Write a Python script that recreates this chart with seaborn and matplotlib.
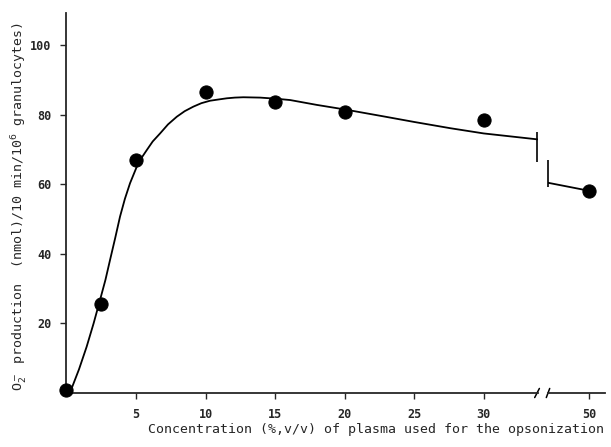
import matplotlib
matplotlib.use("Agg")
import matplotlib.pyplot as plt
import seaborn as sns

# measured points (% plasma, O2- production)
conc = [0, 2.5, 5, 10, 15, 20, 30]
o2 = [0.8, 25.6, 67.1, 86.4, 83.7, 80.8, 78.4]
conc_hi = [50]
o2_hi = [58.1]

# fitted curve
curve_x = [0, 0.32, 0.9, 1.45, 1.95, 2.41, 2.8, 3.13, 3.5, 3.85, 4.2, 4.57, 5.05, 5.4, 5.77,
           6.2, 6.73, 7.3, 7.93, 8.5, 9.12, 9.7, 10.32, 11.0, 11.53, 12.1, 12.72, 13.92,
           15.0, 16.08, 18.0, 20.0, 22.8, 25.0, 27.6, 30.0, 33.85]
curve_y = [0, 0.8, 6.8, 13.3, 20.0, 26.7, 32.5, 38.2, 44.5, 50.7, 55.8, 60.3, 65.0, 67.6, 69.8,
           72.3, 74.6, 77.2, 79.4, 81.0, 82.3, 83.3, 84.0, 84.4, 84.7, 84.9, 85.0, 84.9,
           84.6, 84.2, 82.8, 81.5, 79.5, 77.9, 76.1, 74.6, 72.9]
curve2_x = [47.15, 50]
curve2_y = [60.4, 58.1]

sns.set_style("ticks")
plt.rcParams["font.family"] = ["DejaVu Sans Mono"]

fig = plt.figure(figsize=(6.11, 4.47), dpi=100)
ax = fig.add_axes([0.1088, 0.1208, 0.7717, 0.850])
ax2 = fig.add_axes([0.8969, 0.1208, 0.0933, 0.850], sharey=ax)

sns.lineplot(x=curve_x, y=curve_y, ax=ax, color="black", lw=1.3, sort=False, estimator=None)
sns.scatterplot(x=conc, y=o2, ax=ax, color="black", s=90, edgecolor="black", zorder=5, clip_on=False)
sns.lineplot(x=curve2_x, y=curve2_y, ax=ax2, color="black", lw=1.3, sort=False, estimator=None)
sns.scatterplot(x=conc_hi, y=o2_hi, ax=ax2, color="black", s=90, edgecolor="black", zorder=5, clip_on=False)

# break bars on the curve
ax.vlines(curve_x[-1], 66.5, 75.1, color="black", lw=1.2, clip_on=False)
ax2.vlines(curve2_x[0], 59.3, 67.0, color="black", lw=1.2, clip_on=False)

ax.set_xlim(0, 33.9)
ax2.set_xlim(47.12, 51.08)
ax.set_ylim(0, 109.2)

ax.set_xticks([5, 10, 15, 20, 25, 30])
ax2.set_xticks([50])
ax.set_yticks([20, 40, 60, 80, 100])

for a in (ax, ax2):
    a.spines["top"].set_visible(False)
    a.spines["right"].set_visible(False)
    a.tick_params(axis="both", length=4, width=1, labelsize=8.5, pad=7)
    for lab in a.get_xticklabels() + a.get_yticklabels():
        lab.set_fontweight("bold")
    for s in a.spines.values():
        s.set_linewidth(1.3)
ax2.spines["left"].set_visible(False)
ax2.tick_params(axis="y", left=False, labelleft=False)

# slashes on the x axis break
kw = dict(color="black", lw=1.1, clip_on=False)
ax.plot([0.993, 1.003], [-0.012, 0.012], transform=ax.transAxes, **kw)
ax2.plot([-0.03, 0.03], [-0.012, 0.012], transform=ax2.transAxes, **kw)

fig.text(0.033, 0.537, "O$_2^-$ production  (nmol)/10 min/10$^6$ granulocytes)",
         rotation=90, ha="center", va="center", fontsize=9.5)
fig.text(0.615, 0.025, "Concentration (%,v/v) of plasma used for the opsonization",
         ha="center", va="bottom", fontsize=9.5)

fig.savefig("out.png", dpi=100)
